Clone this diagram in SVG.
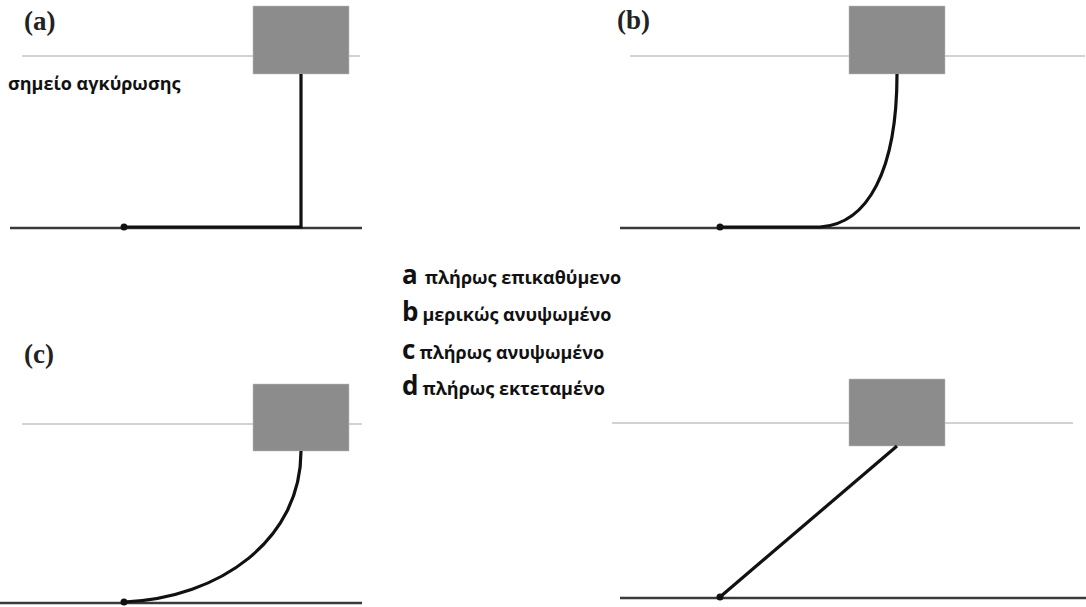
<svg xmlns="http://www.w3.org/2000/svg" width="1086" height="607" viewBox="0 0 1086 607">
<style>
.water{stroke:#d2d2d2;stroke-width:2;fill:none}
.bed{stroke:#3a3a3a;stroke-width:2.5;fill:none}
.rope{stroke:#111;stroke-width:3.2;fill:none;stroke-linejoin:miter}
.buoy{fill:#8c8c8c;stroke:#bdbdbd;stroke-width:0.5}
.lbl{font-family:"Liberation Serif",serif;font-weight:bold;font-size:27px;fill:#222}
.t{font-family:"Open Sans","Liberation Sans",sans-serif;font-weight:bold;font-size:18px;fill:#111}
.big{font-family:"Open Sans","Liberation Sans",sans-serif;font-weight:bold;font-size:26px;fill:#111}
</style>
<rect width="1086" height="607" fill="#fff"/>
<g id="panel-a">
<text class="lbl" x="24" y="30">(a)</text>
<line class="water" x1="22" y1="56" x2="360" y2="56"/>
<line class="bed" x1="10" y1="228" x2="362" y2="228"/>
<rect class="buoy" x="253" y="6" width="96" height="68"/>
<path class="rope" d="M124,227 L301,227 L301,74"/>
<circle cx="124" cy="227" r="3.5" fill="#111"/>
<text class="t" x="8" y="90">σημείο αγκύρωσης</text>
</g>
<g id="panel-b">
<text class="lbl" x="617" y="29">(b)</text>
<line class="water" x1="630" y1="56" x2="1085" y2="56"/>
<line class="bed" x1="620" y1="228" x2="1080" y2="228"/>
<rect class="buoy" x="849" y="6" width="96" height="68"/>
<path class="rope" d="M720,227 L820,227 C868,224 897,170 897,74"/>
<circle cx="720" cy="227" r="3.5" fill="#111"/>
</g>
<g id="legend">
<text x="402" y="284"><tspan class="big">a</tspan><tspan class="t" dx="7">πλήρως επικαθύμενο</tspan></text>
<text x="402" y="321"><tspan class="big">b</tspan><tspan class="t" dx="4">μερικώς ανυψωμένο</tspan></text>
<text x="402" y="359"><tspan class="big">c</tspan><tspan class="t" dx="4">πλήρως ανυψωμένο</tspan></text>
<text x="402" y="395"><tspan class="big">d</tspan><tspan class="t" dx="4">πλήρως εκτεταμένο</tspan></text>
</g>
<g id="panel-c">
<text class="lbl" x="24" y="363">(c)</text>
<line class="water" x1="22" y1="424" x2="362" y2="424"/>
<line class="bed" x1="0" y1="603" x2="362" y2="603"/>
<rect class="buoy" x="253" y="384" width="96" height="67"/>
<path class="rope" d="M124,602 C220,598 301,540 301,451"/>
<circle cx="124" cy="602" r="3.5" fill="#111"/>
</g>
<g id="panel-d">
<line class="water" x1="612" y1="423" x2="1073" y2="423"/>
<line class="bed" x1="620" y1="598" x2="1086" y2="598"/>
<rect class="buoy" x="849" y="379" width="96" height="67"/>
<path class="rope" d="M720,597 L897,446"/>
<circle cx="720" cy="597" r="3.5" fill="#111"/>
</g>
</svg>
